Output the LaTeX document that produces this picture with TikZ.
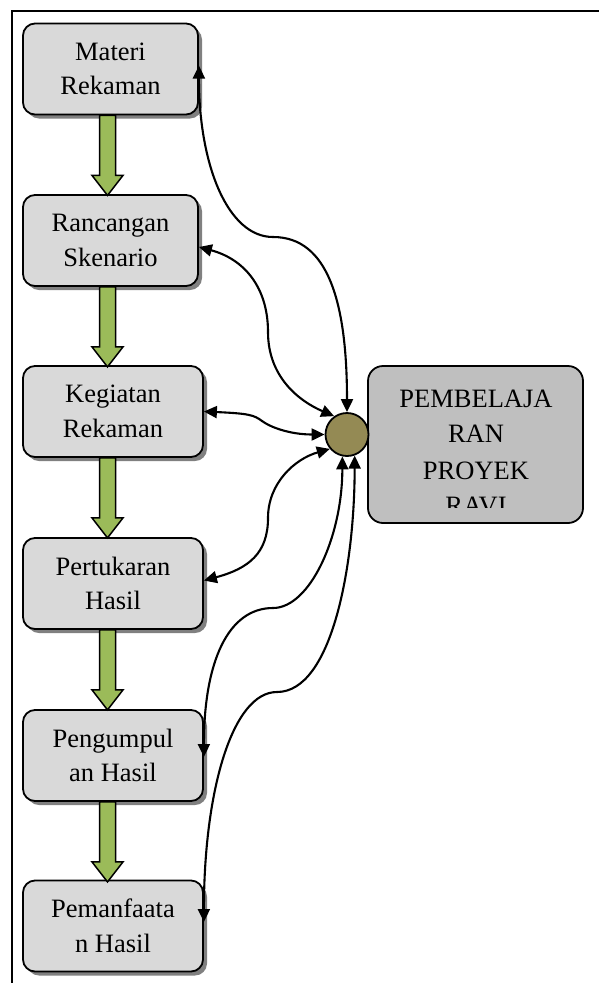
\documentclass[tikz,border=0pt]{standalone}
\usepackage{fontspec}
\setmainfont{Liberation Serif}
\usetikzlibrary{arrows.meta,shadows}
\definecolor{boxgray}{HTML}{D9D9D9}
\definecolor{shadowgray}{HTML}{808080}
\definecolor{greenfill}{HTML}{9BBB59}
\definecolor{olivefill}{HTML}{948A54}
\definecolor{rightgray}{HTML}{BFBFBF}
\begin{document}
\begin{tikzpicture}[x=1pt,y=-1pt,
  stepbox/.style={draw=black,line width=1.8pt,fill=boxgray,rounded corners=12pt,
    align=center,inner sep=0pt,minimum height=91pt,
    font=\fontsize{26.5}{34.5}\selectfont,
    execute at begin node={\rule{0pt}{24pt}},
    drop shadow={shadow xshift=4pt,shadow yshift=-4pt,fill=shadowgray,opacity=1}},
  narrowbox/.style={stepbox,minimum width=175pt},
  widebox/.style={stepbox,minimum width=180pt},
  garrow/.style={draw=black,line width=1.5pt,fill=greenfill,line join=miter},
  link/.style={line width=2.1pt,{Triangle[length=13pt,width=12pt]}-{Triangle[length=13pt,width=12pt]}},
  bigtext/.style={font=\fontsize{26.5}{34.5}\selectfont,anchor=base,inner sep=0pt}]
\useasboundingbox (0,0) rectangle (598,983);
\draw[line width=2.2pt] (12,990) -- (12,11) -- (600,11);

\node[narrowbox] (b1) at (110.5,69) {Materi\\Rekaman};
\node[narrowbox] (b2) at (110.5,240.5) {Rancangan\\Skenario};
\node[widebox] (b3) at (113,411.5) {Kegiatan\\Rekaman};
\node[widebox] (b4) at (113,583.5) {Pertukaran\\Hasil};
\node[widebox] (b5) at (113,755.5) {Pengumpul\\an Hasil};
\node[widebox] (b6) at (113,926) {Pemanfaata\\n Hasil};

\coordinate (ax) at (107.5,0);
\foreach \a in {b1,b2,b3,b4,b5}{
  \draw[garrow] (\a.south -| ax) ++(-8,0) -- ++(0,60) -- ++(-7.5,0) -- ++(15.5,20)
    -- ++(15.5,-20) -- ++(-7.5,0) -- ++(0,-60) -- cycle;
}

\node[draw=black,line width=1.8pt,fill=rightgray,rounded corners=15pt,
  minimum width=215pt,minimum height=157pt,inner sep=0pt] (r) at (475.5,444.5) {};
\begin{scope}
  \clip (368,366) rectangle (583,507);
  \node[bigtext] (t1) at (476,407) {PEMBELAJA};
  \node[bigtext] (t2) at (476,442) {RAN};
  \node[bigtext] (t3) at (476,479) {PROYEK};
  \node[bigtext] (t4) at (476,514) {RAVI};
\end{scope}

\node[circle,draw=black,line width=1.8pt,fill=olivefill,minimum size=43pt,inner sep=0pt] (c) at (347,434.5) {};

\coordinate (j1) at (273,237);
\coordinate (j2) at (268,332);
\coordinate (j3) at (262,421);
\coordinate (j4) at (268,518);
\coordinate (j5) at (273,608);
\coordinate (j6) at (277,692);

\draw[link] ([yshift=3.5pt]b1.east) .. controls +(0,100) and +(-45,0) .. (j1)
  .. controls +(55,0) and +(0,-110) .. (c.north);
\draw[link] ([yshift=-6.5pt]b2.east) .. controls +(45,12) and +(0,-45) .. (j2)
  .. controls +(0,45) and +(-35,-15) .. (c.125);
\draw[link] (b3.east) .. controls +(45,2) and +(-8,-6) .. (j3)
  .. controls +(8,6) and +(-35,0) .. (c.west);
\draw[link] ([yshift=3pt]b4.east) .. controls +(45,-12) and +(0,35) .. (j4)
  .. controls +(0,-35) and +(-35,10) .. (c.220);
\draw[link] ([yshift=-1.5pt]b5.east) .. controls +(0,-95) and +(-45,0) .. (j5)
  .. controls +(37,0) and +(0,80) .. (c.258);
\draw[link] ([yshift=4pt]b6.east) .. controls +(0,-130) and +(-45,0) .. (j6)
  .. controls +(55,0) and +(0,110) .. (c.290);
\end{tikzpicture}
\end{document}
